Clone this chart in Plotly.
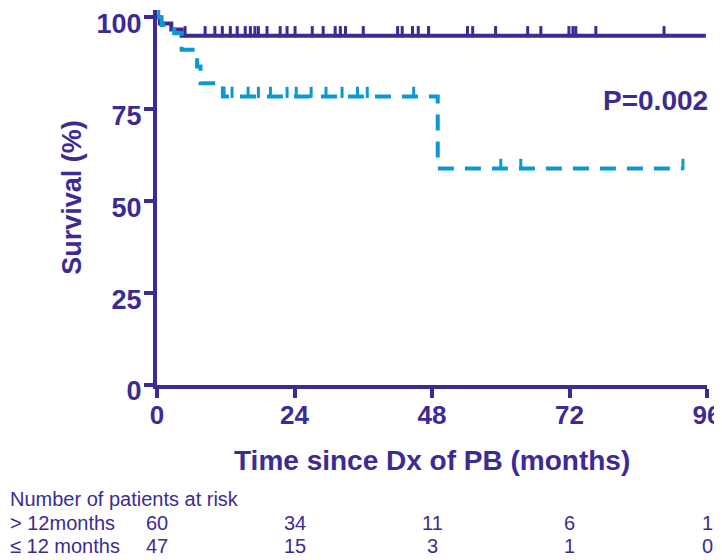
import plotly.graph_objects as go

DARK = "#3c2b94"
LIGHT = "#0b9ad0"
FONT = "Arial, Liberation Sans, sans-serif"

# Group > 12 months (solid, dark)
dark_times = [0, 0.5, 2.5, 4.3, 95.8]
dark_surv = [100, 98.3, 96.7, 95.0, 95.0]
dark_censor = [4.9, 8.4, 10.1, 11.4, 12.8, 14.0, 15.4, 16.3, 17.1, 17.7, 19.2, 21.5,
               22.7, 24.1, 27.1, 29.0, 31.1, 32.0, 32.9, 36.0, 42.0, 42.8, 44.6, 45.6,
               47.4, 54.2, 55.1, 59.1, 64.7, 67.0, 71.9, 72.6, 73.1, 76.6, 88.5]

# Group <= 12 months (dashed, light)
light_times = [0, 0.8, 3.0, 4.3, 7.0, 7.6, 11.5, 49.0, 91.8]
light_surv = [100, 97.9, 95.7, 91.2, 86.6, 82.1, 78.5, 58.9, 58.9]
light_censor = [0.3, 11.7, 13.1, 15.9, 17.7, 19.8, 22.7, 24.3, 26.9, 29.5, 32.3, 35.0,
                36.7, 44.8, 60.0, 63.5, 91.8]

x_ticks = [0, 24, 48, 72, 96]
y_ticks = [0, 25, 50, 75, 100]
risk_labels = ["> 12months", "\u2264 12 months"]
risk_high = [60, 34, 11, 6, 1]
risk_low = [47, 15, 3, 1, 0]
p_text = "P=0.002"


def step_value(times, surv, t):
    v = surv[0]
    for ti, si in zip(times, surv):
        if ti <= t:
            v = si
    return v


TICK_OFF = 1.1  # small upward offset so censor ticks sit above the line

fig = go.Figure()
fig.add_trace(go.Scatter(x=dark_times, y=dark_surv, mode="lines", line_shape="hv",
                         line=dict(color=DARK, width=4), hoverinfo="skip"))
fig.add_trace(go.Scatter(x=dark_censor,
                         y=[step_value(dark_times, dark_surv, t) + TICK_OFF for t in dark_censor],
                         mode="markers",
                         marker=dict(symbol="line-ns", size=8,
                                     line=dict(color=DARK, width=3)), hoverinfo="skip"))
fig.add_trace(go.Scatter(x=light_times, y=light_surv, mode="lines", line_shape="hv",
                         line=dict(color=LIGHT, width=4, dash="16px,11px"), hoverinfo="skip"))
fig.add_trace(go.Scatter(x=light_censor,
                         y=[step_value(light_times, light_surv, t) + TICK_OFF for t in light_censor],
                         mode="markers",
                         marker=dict(symbol="line-ns", size=8,
                                     line=dict(color=LIGHT, width=3)), hoverinfo="skip"))

# the page body has an 8px default margin, so the figure is 8px smaller
fig.update_layout(
    width=714, height=552,
    margin=dict(l=149, r=15, t=2, b=175, autoexpand=False),
    paper_bgcolor="white", plot_bgcolor="white",
    showlegend=False,
    font=dict(family=FONT, color=DARK),
    xaxis=dict(range=[0, 96], tickvals=x_ticks, ticks="outside", ticklen=9, tickwidth=4,
               tickcolor=DARK, showline=True, linecolor=DARK, linewidth=4,
               showgrid=False, zeroline=False, ticklabelstandoff=-5,
               ticklabeloverflow="allow", automargin=False,
               tickfont=dict(size=26, family=FONT, color=DARK, weight="bold")),
    yaxis=dict(range=[0, 102], tickvals=y_ticks, ticks="outside", ticklen=9, tickwidth=4,
               tickcolor=DARK, showline=True, linecolor=DARK, linewidth=4,
               showgrid=False, zeroline=False, ticklabelstandoff=-3, ticklabelshift=6,
               ticklabeloverflow="allow", automargin=False,
               tickfont=dict(size=27, family=FONT, color=DARK, weight="bold"),
               title=dict(text="Survival (%)", standoff=8,
                          font=dict(size=27, family=FONT, color=DARK, weight="bold"))),
)

ann = []
ann.append(dict(text="Time since Dx of PB (months)", xref="paper", yref="paper",
                x=0.5, y=-0.2, xanchor="center", yanchor="middle", showarrow=False,
                font=dict(size=28, family=FONT, color=DARK, weight="bold")))
ann.append(dict(text=p_text, xref="paper", yref="y", x=1.0, y=77.5, xanchor="right",
                yanchor="middle", showarrow=False, xshift=3,
                font=dict(size=28, family=FONT, color=DARK, weight="bold")))

row_y = [-0.304, -0.368, -0.429]
ann.append(dict(text="Number of patients at risk", xref="paper", yref="paper",
                x=-0.271, y=row_y[0], xanchor="left", yanchor="middle", showarrow=False,
                font=dict(size=20, family=FONT, color=DARK)))
for lab, vals, yy in zip(risk_labels, [risk_high, risk_low], row_y[1:]):
    ann.append(dict(text=lab, xref="paper", yref="paper", x=-0.271, y=yy,
                    xanchor="left", yanchor="middle", showarrow=False,
                    font=dict(size=20, family=FONT, color=DARK)))
    for xt, v in zip(x_ticks, vals):
        ann.append(dict(text=str(v), xref="x", yref="paper", x=xt, y=yy,
                        xanchor="center", yanchor="middle", showarrow=False,
                        font=dict(size=20, family=FONT, color=DARK)))
fig.update_layout(annotations=ann)

fig.write_html("out.html")
